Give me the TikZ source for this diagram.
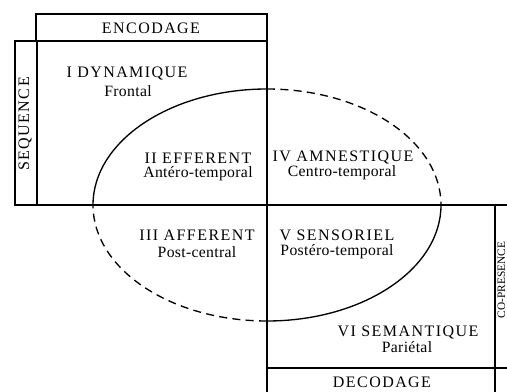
\documentclass[tikz,border=0pt]{standalone}
\usepackage{fontspec}
\setmainfont{Liberation Serif}

\tikzset{every picture/.style={line width=1pt}}
\tikzset{
  caps/.style={font=\fontsize{12}{13}\selectfont\addfontfeature{LetterSpace=9}},
  lobe/.style={font=\fontsize{11.8}{13}\selectfont\addfontfeature{LetterSpace=2}},
  side/.style={font=\fontsize{8.5}{10}\selectfont, rotate=90, inner sep=0pt},
  dashedarc/.style={dash pattern={on 6pt off 4pt}}
}

\begin{document}
\begin{tikzpicture}[x=0.75pt,y=0.75pt,yscale=-1,xscale=1]
\useasboundingbox (0,0) rectangle (507,392);

%Shape: Rectangle [id:encodage]
\draw   (36,14) -- (267,14) -- (267,41) -- (36,41) -- cycle ;
%Shape: Rectangle [id:sequence]
\draw   (15,41) -- (37,41) -- (37,205) -- (15,205) -- cycle ;
%Straight Lines [id:horizontal]
\draw   (37,205) -- (507,205) ;
%Straight Lines [id:vertical]
\draw   (267,41) -- (267,392) ;
%Straight Lines [id:copresence]
\draw   (495,205) -- (495,392) ;
%Straight Lines [id:decodage]
\draw   (267,368) -- (507,368) ;

%Shape: Arc [id:lobe-haut-gauche]
\draw   (93,205) arc[start angle=180, end angle=270, x radius=174, y radius=116] ;
%Shape: Arc [id:lobe-haut-droite]
\draw  [dashedarc] (267,89) arc[start angle=270, end angle=360, x radius=174, y radius=116] ;
%Shape: Arc [id:lobe-bas-droite]
\draw   (441,205) arc[start angle=0, end angle=90, x radius=174, y radius=116] ;
%Shape: Arc [id:lobe-bas-gauche]
\draw  [dashedarc] (267,321) arc[start angle=90, end angle=180, x radius=174, y radius=116] ;

% Text Node
\draw (151,28) node [caps] (enc) {ENCODAGE};
% Text Node
\draw (25,124) node [caps, rotate=90] (seq) {SEQUENCE};
% Text Node
\draw (127,74) node [caps] (dyn) {I DYNAMIQUE};
% Text Node
\draw (128,91) node [lobe] (frontal) {Frontal};
% Text Node
\draw (198,158) node [caps] (eff) {II EFFERENT};
% Text Node
\draw (198,174) node [lobe] (antero) {Antéro-temporal};
% Text Node
\draw (343,158) node [caps] (amn) {IV AMNESTIQUE};
% Text Node
\draw (342,173) node [lobe] (centro) {Centro-temporal};
% Text Node
\draw (197,235) node [caps] (aff) {III AFFERENT};
% Text Node
\draw (197,252) node [lobe] (post) {Post-central};
% Text Node
\draw (337,235) node [caps] (sens) {V SENSORIEL};
% Text Node
\draw (337,252) node [lobe] (postero) {Postéro-temporal};
% Text Node
\draw (408,332) node [caps] (sem) {VI SEMANTIQUE};
% Text Node
\draw (407,347) node [lobe] (parietal) {Pariétal};
% Text Node
\draw (382,382) node [caps] (dec) {DECODAGE};
% Text Node
\draw (501.5,280) node [side] (copres) {CO-PRESENCE};

\end{tikzpicture}
\end{document}
